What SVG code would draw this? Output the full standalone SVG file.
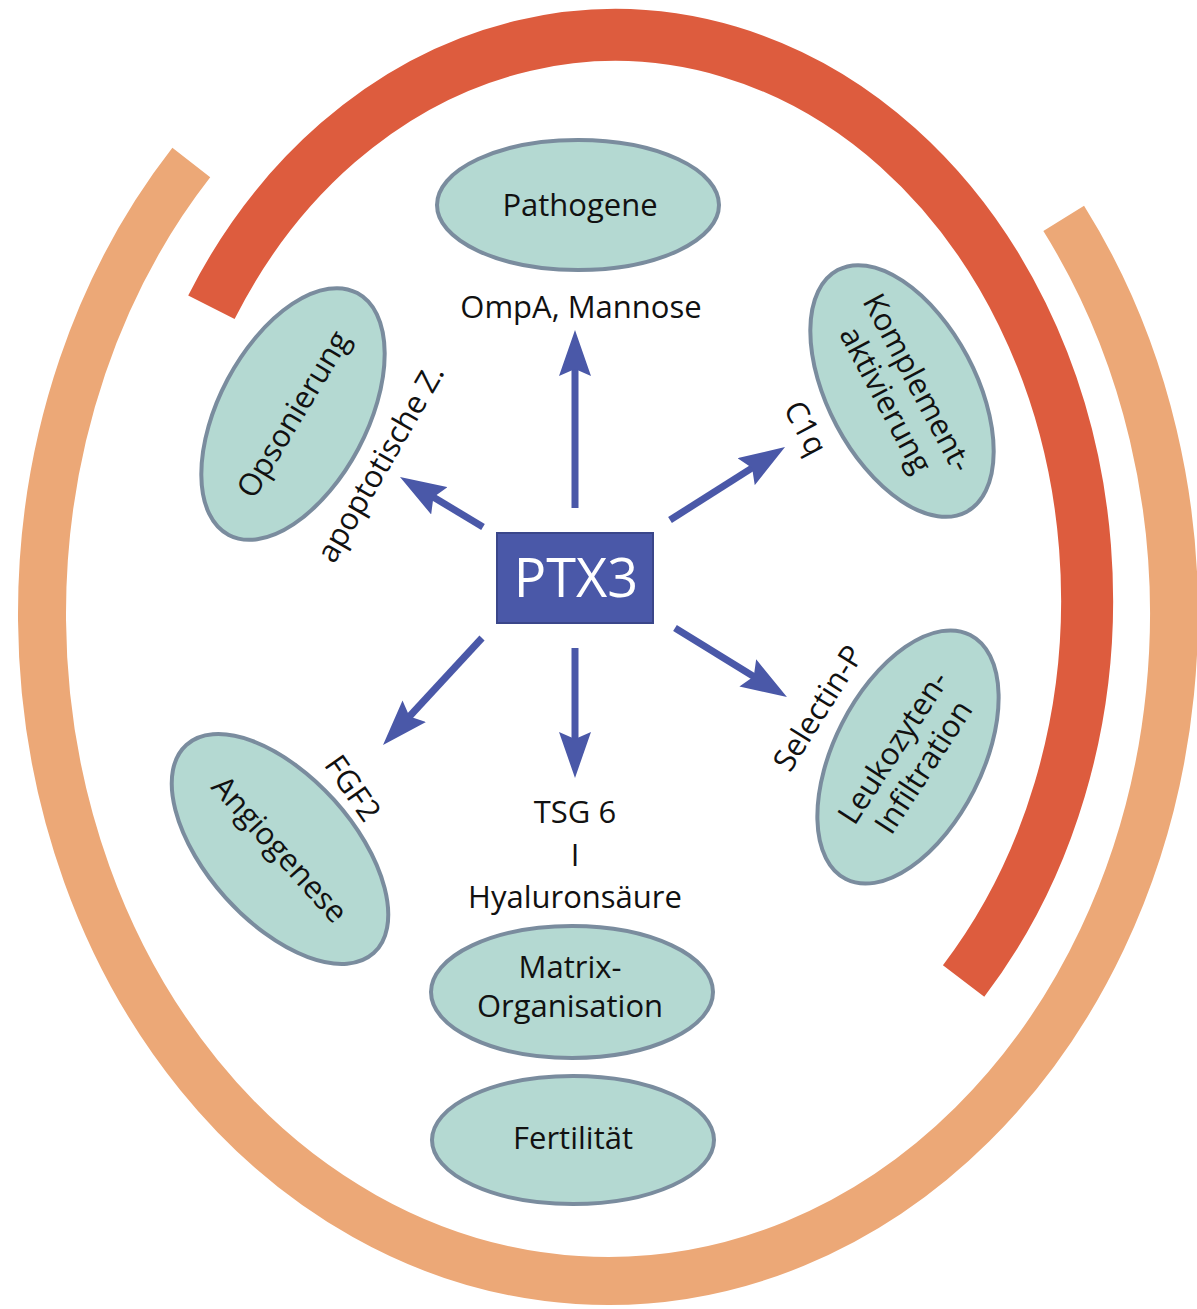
<svg xmlns="http://www.w3.org/2000/svg" width="1197" height="1309" viewBox="0 0 1197 1309">
<defs>
<style>
.ring{fill:none;stroke-linecap:butt}
.node{fill:#B4D9D2;stroke:#7A8C9E;stroke-width:4}
.t{font-family:"Open Sans","Liberation Sans",sans-serif;font-size:31px;fill:#111;text-anchor:middle}
.arr{stroke:#4A58A8;stroke-width:7;fill:none;marker-end:url(#ah)}
</style>
<marker id="ah" markerUnits="userSpaceOnUse" markerWidth="46" markerHeight="32" viewBox="0 0 46 32" refX="16" refY="16" orient="auto">
<path d="M0,0 L46,16 L0,32 L7,16 Z" fill="#4A58A8"/>
</marker>
</defs>
<rect width="1197" height="1309" fill="#FFFFFF"/>
<g id="rings">
<path class="ring" d="M 1063.7 218.4 A 566 667 0 1 1 191.3 162.6" stroke="#ECA877" stroke-width="48"/>
<path class="ring" d="M 211.4 307.2 A 472 565 0 1 1 963.6 981" stroke="#DD5C3E" stroke-width="52"/>
</g>
<g id="connectors">
<line class="arr" x1="575" y1="508" x2="575" y2="360"/>
<line class="arr" x1="575" y1="648" x2="575" y2="748"/>
<line class="arr" x1="483" y1="527" x2="425.7" y2="492.5"/>
<line class="arr" x1="670" y1="520" x2="759.7" y2="463.1"/>
<line class="arr" x1="482" y1="638" x2="403.4" y2="723"/>
<line class="arr" x1="675" y1="628" x2="761.4" y2="681.3"/>
</g>
<g id="ptx3">
<rect x="497" y="533" width="156" height="90" fill="#4A58A8" stroke="#3A468A" stroke-width="2"/>
<text x="576" y="597" font-family="'Open Sans','Liberation Sans',sans-serif" font-size="54" fill="#FFFFFF" text-anchor="middle">PTX3</text>
</g>
<g id="pathogene">
<ellipse class="node" cx="578" cy="205" rx="141" ry="65"/>
<text class="t" x="580" y="216">Pathogene</text>
</g>
<g id="opsonierung">
<ellipse class="node" cx="0" cy="0" rx="137" ry="74" transform="translate(293,414) rotate(-62)"/>
<text class="t" x="0" y="11" transform="translate(293,414) rotate(-59)">Opsonierung</text>
</g>
<g id="komplement">
<ellipse class="node" cx="0" cy="0" rx="137" ry="74" transform="translate(902,391) rotate(62)"/>
<text class="t" transform="translate(902,391) rotate(62)"><tspan x="0" y="-7">Komplement-</tspan><tspan x="0" y="29">aktivierung</tspan></text>
</g>
<g id="leukozyten">
<ellipse class="node" cx="0" cy="0" rx="137" ry="74" transform="translate(908,757) rotate(-63)"/>
<text class="t" transform="translate(908,757) rotate(-57)"><tspan x="0" y="-7">Leukozyten-</tspan><tspan x="0" y="29">Infiltration</tspan></text>
</g>
<g id="angiogenese">
<ellipse class="node" cx="0" cy="0" rx="140" ry="73" transform="translate(280,849) rotate(48)"/>
<text class="t" x="0" y="11" transform="translate(280,849) rotate(48)">Angiogenese</text>
</g>
<g id="matrix">
<ellipse class="node" cx="572" cy="992" rx="141" ry="66"/>
<text class="t"><tspan x="570" y="978">Matrix-</tspan><tspan x="570" y="1017">Organisation</tspan></text>
</g>
<g id="fertilitaet">
<ellipse class="node" cx="573" cy="1140" rx="141" ry="64"/>
<text class="t" x="573" y="1149">Fertilität</text>
</g>
<g id="labels">
<text class="t" x="581" y="318">OmpA, Mannose</text>
<text class="t" x="0" y="11" transform="translate(380,463) rotate(-60)">apoptotische Z.</text>
<text class="t" x="0" y="11" transform="translate(806,428) rotate(62)">C1q</text>
<text class="t" x="0" y="11" transform="translate(818,708) rotate(-58)">Selectin-P</text>
<text class="t" x="0" y="11" transform="translate(353,788) rotate(55)">FGF2</text>
<text class="t" x="575" y="823">TSG 6</text>
<text class="t" x="575" y="866">I</text>
<text class="t" x="575" y="908">Hyaluronsäure</text>
</g>
</svg>
